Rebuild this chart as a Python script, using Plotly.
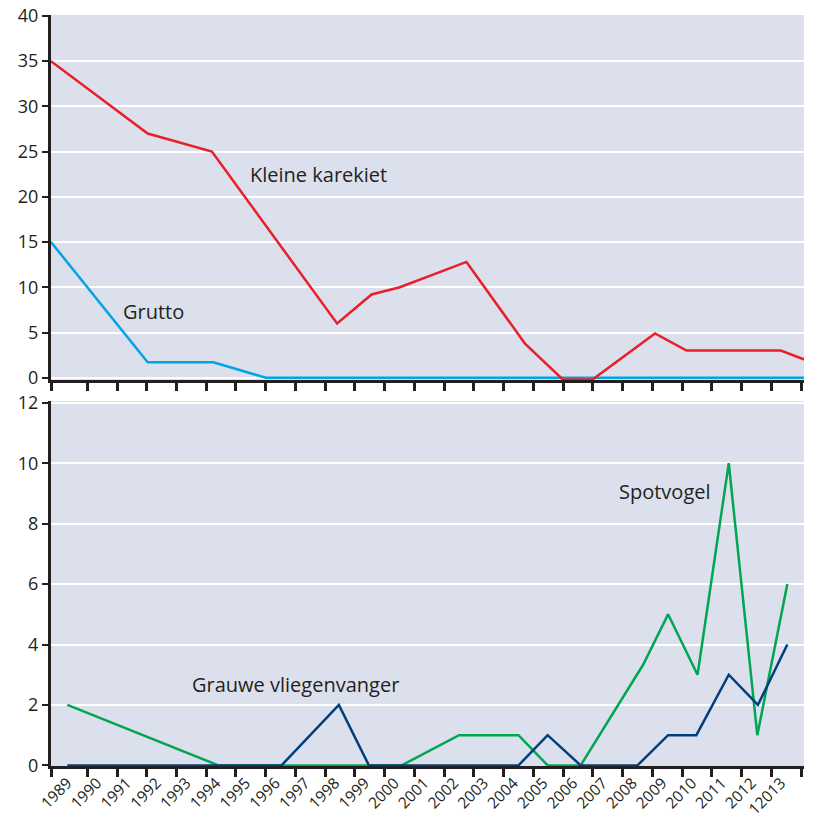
import plotly.graph_objects as go
from plotly.subplots import make_subplots

# ---- data (x = position in years) ----
year_ticks = list(range(1989, 2014))
year_labels = [str(y) for y in range(1989, 2013)] + ["12013"]
tick_marks = [1988.28] + [y + 0.5 for y in range(1989, 2014)]

kk_x = [1988.28, 1991.53, 1993.69, 1997.90, 1999.06, 2000.01, 2002.25, 2004.21,
        2005.49, 2006.49, 2008.59, 2009.65, 2012.82, 2013.62]
kk_y = [35, 27, 25, 6, 9.2, 10, 12.8, 3.8, -0.2, -0.2, 4.9, 3, 3, 2]

gr_x = [1988.28, 1991.53, 1993.74, 1995.50, 2013.62]
gr_y = [15, 1.7, 1.7, 0, 0]

sp_x = [1988.83, 1993.91, 2000.07, 2002.00, 2004.00, 2004.98, 2006.09, 2008.19,
        2009.03, 2010.02, 2011.07, 2012.03, 2013.04]
sp_y = [2, 0, 0, 1, 1, 0, 0, 3.33, 5, 3, 10, 1, 6]

gv_x = [1988.83, 1996.03, 1997.96, 1998.97, 2004.00, 2004.98, 2006.09, 2008.00,
        2009.03, 2009.98, 2011.07, 2012.05, 2013.04]
gv_y = [0, 0, 2, 0, 0, 1, 0, 0, 1, 1, 3, 2, 4]

top_ticks = [0, 5, 10, 15, 20, 25, 30, 35, 40]
bottom_ticks = [0, 2, 4, 6, 8, 10, 12]

# ---- styling ----
INK = "#231f20"
BG = "#dcdfec"
FONT = "Open Sans"
XR = [1988.28, 2013.6]

fig = make_subplots(rows=2, cols=1, shared_xaxes=False, vertical_spacing=0.028)

fig.add_trace(go.Scatter(x=gr_x, y=gr_y, mode="lines",
                         line=dict(color="#00a6e3", width=2.5), name="Grutto"), row=1, col=1)
fig.add_trace(go.Scatter(x=kk_x, y=kk_y, mode="lines",
                         line=dict(color="#e8202a", width=2.5), name="Kleine karekiet"), row=1, col=1)
fig.add_trace(go.Scatter(x=sp_x, y=sp_y, mode="lines",
                         line=dict(color="#00a651", width=2.5), name="Spotvogel"), row=2, col=1)
fig.add_trace(go.Scatter(x=gv_x, y=gv_y, mode="lines",
                         line=dict(color="#003f7d", width=2.5), name="Grauwe vliegenvanger"), row=2, col=1)

common_x = dict(range=XR, showgrid=False, zeroline=False, showline=True, automargin=False,
                linecolor=INK, linewidth=3, ticks="", layer="below traces",
                ticklabeloverflow="allow",
                minor=dict(tickmode="array", tickvals=tick_marks, ticks="outside",
                           ticklen=8, tickwidth=2.5, tickcolor=INK, showgrid=False))
fig.update_xaxes(**common_x, showticklabels=False, row=1, col=1)
fig.update_xaxes(**common_x, tickmode="array", tickvals=year_ticks, ticktext=year_labels,
                 tickangle=-45, tickfont=dict(family=FONT, size=15.5, color=INK),
                 ticklabelshift=-5, ticklabelstandoff=-1, row=2, col=1)

common_y = dict(showgrid=True, gridcolor="white", gridwidth=2, zeroline=False, automargin=False,
                showline=True, linecolor=INK, linewidth=3, ticks="outside",
                ticklen=6, tickwidth=2, tickcolor=INK, layer="below traces",
                ticklabeloverflow="allow",
                tickfont=dict(family=FONT, size=18, color=INK))
fig.update_yaxes(**common_y, range=[-0.25, 40.1], tickmode="array", tickvals=top_ticks,
                 row=1, col=1)
fig.update_yaxes(**common_y, range=[-0.02, 12.06], tickmode="array", tickvals=bottom_ticks,
                 row=2, col=1)

ann_font = dict(family=FONT, size=20, color=INK)
fig.add_annotation(x=1994.9, y=22.5, xref="x", yref="y", text="Kleine karekiet",
                   showarrow=False, xanchor="left", yanchor="middle", font=ann_font)
fig.add_annotation(x=1990.63, y=7.3, xref="x", yref="y", text="Grutto",
                   showarrow=False, xanchor="left", yanchor="middle", font=ann_font)
fig.add_annotation(x=2007.3, y=9.06, xref="x2", yref="y2", text="Spotvogel",
                   showarrow=False, xanchor="left", yanchor="middle", font=ann_font)
fig.add_annotation(x=1992.95, y=2.68, xref="x2", yref="y2", text="Grauwe vliegenvanger",
                   showarrow=False, xanchor="left", yanchor="middle", font=ann_font)

fig.update_layout(width=814, height=816, margin=dict(l=51, r=10, t=15, b=50),
                  plot_bgcolor=BG, paper_bgcolor="white", showlegend=False,
                  font=dict(family=FONT, color=INK))

fig.write_html("out.html", config={"displayModeBar": False},
               post_script="document.body.style.margin='0';document.body.style.overflow='hidden';")
